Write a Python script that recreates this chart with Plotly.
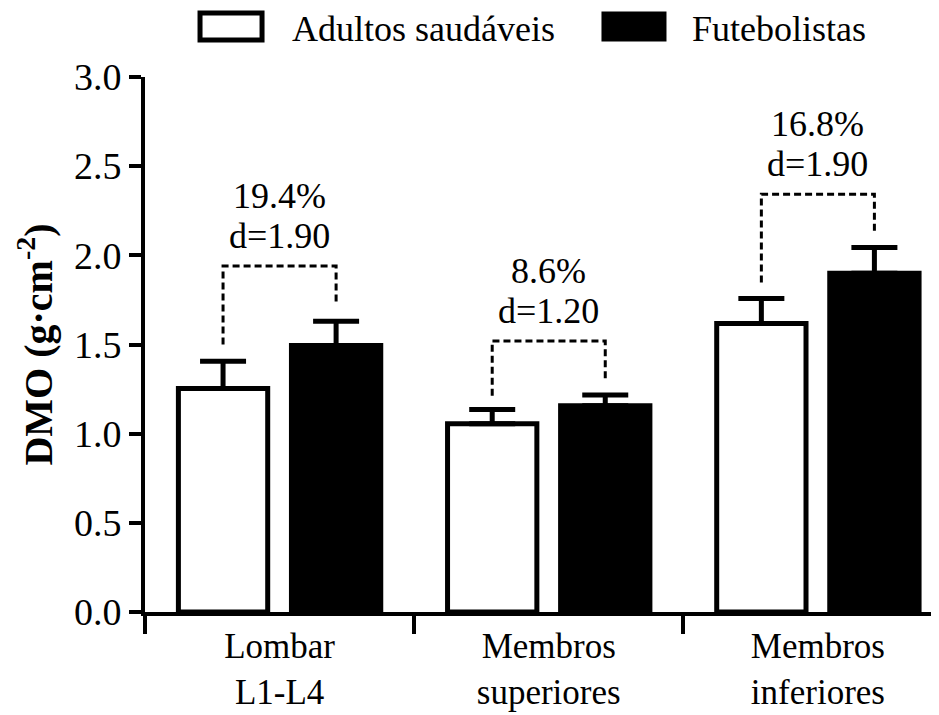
import plotly.graph_objects as go

categories = ["Lombar<br>L1-L4", "Membros<br>superiores", "Membros<br>inferiores"]
series_names = ["Adultos saudáveis", "Futebolistas"]
adultos_mean = [1.253, 1.056, 1.618]
adultos_sd = [0.153, 0.080, 0.140]
futebol_mean = [1.494, 1.157, 1.899]
futebol_sd = [0.137, 0.060, 0.145]
bracket_top = [1.94, 1.52, 2.343]
bracket_left_end = [1.50, 1.213, 1.848]
bracket_right_end = [1.72, 1.309, 2.131]
pct_labels = ["19.4%", "8.6%", "16.8%"]
d_labels = ["d=1.90", "d=1.20", "d=1.90"]
y_ticks = [0.0, 0.5, 1.0, 1.5, 2.0, 2.5, 3.0]

FONT = "Liberation Serif, Times New Roman, serif"
OFF = 0.21  # half slot of grouped bars (category units)

fig = go.Figure()
fig.add_trace(go.Bar(
    x=categories, y=adultos_mean, name=series_names[0],
    marker=dict(color="white", line=dict(color="black", width=5)),
    error_y=dict(type="data", symmetric=False, array=adultos_sd,
                 arrayminus=[0] * 3, color="black", thickness=5, width=23),
))
fig.add_trace(go.Bar(
    x=categories, y=futebol_mean, name=series_names[1],
    marker=dict(color="black", line=dict(color="black", width=5)),
    error_y=dict(type="data", symmetric=False, array=futebol_sd,
                 arrayminus=[0] * 3, color="black", thickness=5, width=23),
))

# dashed brackets on an overlaid numeric x axis
for i in range(len(categories)):
    xl, xr = i - OFF, i + OFF
    fig.add_trace(go.Scatter(
        x=[xl, xl, xr, xr],
        y=[bracket_left_end[i], bracket_top[i], bracket_top[i], bracket_right_end[i]],
        mode="lines", xaxis="x2", showlegend=False, hoverinfo="skip",
        line=dict(color="black", width=3, dash="7px,4px"),
    ))
    fig.add_annotation(x=i, y=bracket_top[i], xref="x2", yref="y", text=d_labels[i],
                       showarrow=False, yshift=30, font=dict(family=FONT, size=36, color="black"))
    fig.add_annotation(x=i, y=bracket_top[i], xref="x2", yref="y", text=pct_labels[i],
                       showarrow=False, yshift=70, font=dict(family=FONT, size=36, color="black"))

# manual legend
fig.add_shape(type="rect", xref="paper", yref="paper", x0=0.0693, x1=0.1474, y0=1.069, y1=1.1196,
              fillcolor="white", line=dict(color="black", width=5))
fig.add_shape(type="rect", xref="paper", yref="paper", x0=0.5768, x1=0.6549, y0=1.069, y1=1.1196,
              fillcolor="black", line=dict(color="black", width=3))
fig.add_annotation(x=0.1826, y=1.0897, xref="paper", yref="paper", text=series_names[0],
                   showarrow=False, xanchor="left", yanchor="middle",
                   font=dict(family=FONT, size=36, color="black"))
fig.add_annotation(x=0.6864, y=1.0897, xref="paper", yref="paper", text=series_names[1],
                   showarrow=False, xanchor="left", yanchor="middle",
                   font=dict(family=FONT, size=36, color="black"))

# page body adds an 8px margin: size the figure so the plot lands where the reference has it
fig.update_layout(
    width=931, height=707,
    margin=dict(l=137, r=0, t=69, b=103),
    paper_bgcolor="white", plot_bgcolor="white",
    barmode="group", bargap=0.16, bargroupgap=0.21,
    showlegend=False,
    font=dict(family=FONT, size=36, color="black"),
    xaxis=dict(
        type="category", range=[-0.5, 2.45], tickson="boundaries", automargin=False,
        showline=True, linecolor="black", linewidth=4,
        ticks="outside", ticklen=18, tickwidth=4, tickcolor="black",
        tickfont=dict(family=FONT, size=35, color="black"),
        showgrid=False, zeroline=False,
    ),
    xaxis2=dict(range=[-0.5, 2.45], overlaying="x", visible=False),
    yaxis=dict(
        range=[0, 3.0], tickvals=y_ticks, tickformat=".1f", automargin=False,
        showline=True, linecolor="black", linewidth=4,
        ticks="outside", ticklen=12, tickwidth=4, tickcolor="black",
        tickfont=dict(family=FONT, size=38, color="black"),
        showgrid=False, zeroline=False,
        title=dict(text="<b>DMO (g·cm<sup>-2</sup>)</b>", font=dict(family=FONT, size=40, color="black"),
                   standoff=10),
    ),
)

fig.write_html("out.html")
